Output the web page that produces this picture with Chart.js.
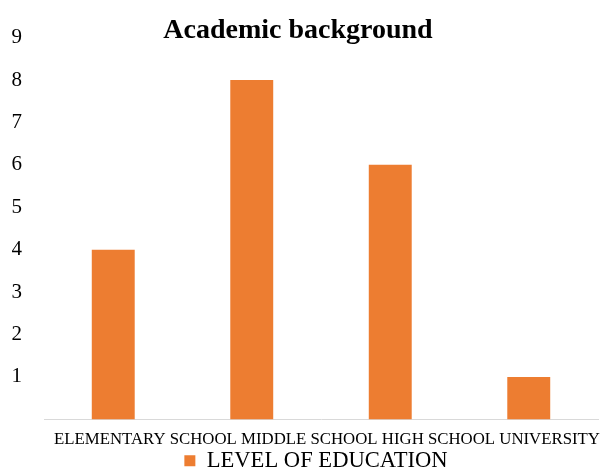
<!DOCTYPE html>
<html>
<head>
<meta charset="utf-8">
<script src="https://cdn.jsdelivr.net/npm/chart.js@4"></script>
<style>
  html, body { margin: 0; padding: 0; background: #ffffff; }
  #wrap { width: 602px; height: 473px; }
</style>
</head>
<body>
<div id="wrap"><canvas id="eduChart"></canvas></div>
<script>
// data
const categories = ['ELEMENTARY SCHOOL', 'MIDDLE SCHOOL', 'HIGH SCHOOL', 'UNIVERSITY'];
const counts = [4, 8, 6, 1];
const seriesName = 'LEVEL OF EDUCATION';
const yTicks = [0, 1, 2, 3, 4, 5, 6, 7, 8, 9];

const serif = "'Liberation Serif', 'Times New Roman', serif";
const xFontSize = 16.8;

// Excel lays the category names out as one running line of text,
// so re-flow the tick labels side by side instead of centring them on each bar
const flowLabels = {
  id: 'flowLabels',
  afterLayout(chart) {
    // nudge title / legend to where the reference puts them
    chart.titleBlock.left -= 7;
    chart.titleBlock.right -= 7;
    chart.legend.left += 11;
    chart.legend.right += 11;
  },
  beforeDraw(chart) {
    const scale = chart.scales.x;
    const items = scale.getLabelItems();
    const ctx = chart.ctx;
    ctx.save();
    ctx.font = xFontSize + 'px ' + serif;
    const gap = ctx.measureText(' ').width;
    const widths = items.map(it => ctx.measureText(it.label).width);
    ctx.restore();
    const total = widths.reduce((a, b) => a + b, 0) + gap * (items.length - 1);
    let x = (scale.left + scale.right) / 2 - total / 2 + 6;
    items.forEach((it, i) => {
      it.options.translation[0] = x + widths[i] / 2;
      x += widths[i] + gap;
    });
  }
};

const ctx = document.getElementById('eduChart').getContext('2d');
const eduChart = new Chart(ctx, {
  type: 'bar',
  data: {
    labels: categories,
    datasets: [{
      label: seriesName,
      data: counts,
      backgroundColor: '#ED7D31',
      borderWidth: 0,
      categoryPercentage: 1,
      barPercentage: 0.31
    }]
  },
  options: {
    responsive: true,
    maintainAspectRatio: false,
    animation: false,
    layout: { padding: { left: 12, right: 4, top: 0, bottom: -9 } },
    plugins: {
      title: {
        display: true,
        text: 'Academic background',
        color: '#000000',
        font: { family: serif, size: 28, weight: 'bold' },
        padding: { top: 14, bottom: -10 }
      },
      legend: {
        position: 'bottom',
        labels: {
          color: '#000000',
          font: { family: serif, size: 22.6 },
          boxWidth: 11,
          boxHeight: 11,
          padding: 0
        }
      },
      tooltip: { enabled: false }
    },
    scales: {
      x: {
        grid: { display: false, drawTicks: false },
        border: { display: true, color: '#d9d9d9', width: 1 },
        ticks: {
          color: '#000000',
          font: { family: serif, size: xFontSize },
          padding: 10,
          autoSkip: false,
          maxRotation: 0,
          minRotation: 0
        },
        afterFit(scale) {
          scale.paddingLeft = 0;
          scale.paddingRight = 0;
          scale.height = 30;
        }
      },
      y: {
        min: yTicks[0],
        max: yTicks[yTicks.length - 1],
        afterBuildTicks(axis) {
          axis.ticks = yTicks.map(v => ({ value: v }));
        },
        grid: { display: false, drawTicks: false },
        border: { display: false },
        ticks: {
          color: '#000000',
          font: { family: serif, size: 21 },
          padding: 22,
          callback: v => (v === 0 ? '' : v)
        },
        afterFit(scale) {
          scale.width = 32;
        }
      }
    }
  },
  plugins: [flowLabels]
});
</script>
</body>
</html>
